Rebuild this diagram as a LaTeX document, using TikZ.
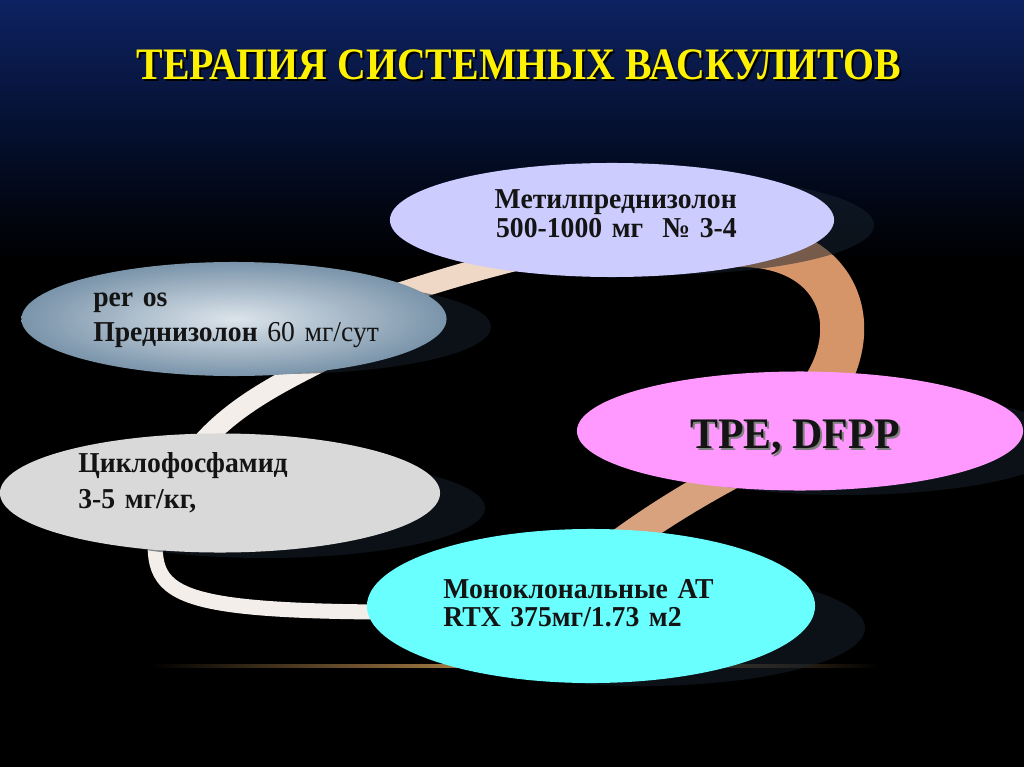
\documentclass[tikz,border=0pt]{standalone}
\usepackage{fontspec}
\setmainfont{Liberation Serif}
\newfontfamily\slidefont[FakeStretch=0.96]{Liberation Serif}
\newfontfamily\titlefont[FakeStretch=0.885]{Liberation Serif}
\usetikzlibrary{shapes.geometric}

\definecolor{bgtop}{HTML}{0D2262}
\definecolor{bgmid}{HTML}{030C24}
\definecolor{methfill}{HTML}{CCCCFF}
\definecolor{perosin}{HTML}{DCE4EB}
\definecolor{perosout}{HTML}{7A94AA}
\definecolor{tpefill}{HTML}{FF99FF}
\definecolor{cyclofill}{HTML}{D9D9D9}
\definecolor{monofill}{HTML}{6AFFFF}
\definecolor{bandwhite}{HTML}{F4EEEA}
\definecolor{bandpink}{HTML}{EFD8C6}
\definecolor{bandtan}{HTML}{D69469}
\definecolor{bandtan2}{HTML}{D8A27F}
\definecolor{shadowfill}{HTML}{17232F}
\definecolor{inktext}{HTML}{141414}
\definecolor{glowline}{HTML}{C09050}

\pgfdeclarelayer{slide}
\pgfdeclarelayer{ribbon}
\pgfdeclarelayer{shade}
\pgfsetlayers{slide,ribbon,shade,main}

% tikz maps 25bp..75bp of the shading onto the path
\pgfdeclareverticalshading{slidebg}{100bp}{color(0bp)=(black); color(58bp)=(black); color(64.6bp)=(bgmid); color(75bp)=(bgtop); color(100bp)=(bgtop)}

\begin{document}
\begin{tikzpicture}[x=0.025cm, y=-0.025cm,
    pill/.style={ellipse, inner sep=0pt, outer sep=0pt},
    ink/.style={text=inktext, inner sep=0pt, font=\slidefont\fontsize{20.5}{#1}\selectfont\bfseries},
    ink/.default=20.6pt,
    heading/.style={inner sep=0pt, anchor=base, font=\titlefont\fontsize{32}{38}\selectfont\bfseries},
    band/.style={line cap=butt, line join=round},
    drop/.style={fill=shadowfill, opacity=.5}]
  \useasboundingbox (0,0) rectangle (1024,767);

  \begin{pgfonlayer}{slide}
    \shade[shading=slidebg] (0,0) rectangle (1024,767);
    \shade[left color=black, right color=black, middle color=glowline] (150,664) rectangle (880,667);
  \end{pgfonlayer}

  % title
  \node[heading, text=black] at (521,82) {ТЕРАПИЯ СИСТЕМНЫХ ВАСКУЛИТОВ};
  \node[heading, text=yellow] (title) at (519,80) {ТЕРАПИЯ СИСТЕМНЫХ ВАСКУЛИТОВ};

  % ellipses
  \node[pill, fill=methfill, minimum width=11.1cm, minimum height=2.85cm] (meth) at (612,220) {};
  \node[pill, inner color=perosin, outer color=perosout, minimum width=10.625cm, minimum height=2.85cm] (peros) at (234,319) {};
  \node[pill, fill=cyclofill, minimum width=11cm, minimum height=2.975cm] (cyclo) at (220,493) {};
  \node[pill, fill=tpefill, minimum width=11.15cm, minimum height=2.975cm] (tpe) at (800,431) {};
  \node[pill, fill=monofill, minimum width=11.2cm, minimum height=3.85cm] (mono) at (591,606) {};

  \node[ink, text width=8cm, align=right, anchor=base east] (methtext) at (737,209) {Метилпреднизолон\\500-1000 мг\ \ № 3-4};
  \node[ink=24.9pt, text width=8cm, align=left, anchor=base west] (perostext) at (93,306) {per os\\Преднизолон {\mdseries 60 мг/сут}};
  \node[ink=25.6pt, text width=8cm, align=left, anchor=base west] (cyclotext) at (78,472) {Циклофосфамид\\3-5 мг/кг,};
  \node[ink, text width=8cm, align=left, anchor=base west] (monotext) at (443,598) {Моноклональные АТ\\RTX 375мг/1.73 м2};
  \node[heading, text=gray, font=\slidefont\fontsize{31}{36}\selectfont\bfseries] at (797,450) {TPE, DFPP};
  \node[heading, text=inktext, font=\slidefont\fontsize{31}{36}\selectfont\bfseries] (tpetext) at (795,448) {TPE, DFPP};

  % ribbon behind the ellipses
  \begin{pgfonlayer}{ribbon}
    \draw[band, bandwhite, line width=10.7pt] (mono.center) -- (470,612) .. controls (160,614) and (148,600) .. (157,520) -- (cyclo.center);
    \draw[band, bandwhite, line width=14.2pt] (cyclo.center) -- (185,465) .. controls (220,412) and (275,385) .. (335,355) -- (peros.center);
    \draw[band, bandpink, line width=15.6pt] (peros.center) -- (380,300) .. controls (440,280) and (500,262) .. (580,245) -- (meth.center);
    \draw[band, bandtan, line width=31.3pt] (meth.center) -- (740,245) .. controls (840,245) and (870,330) .. (815,400) -- (tpe.center);
    \draw[band, bandtan2, line width=21.3pt] (tpe.center) -- (790,445) .. controls (740,468) and (670,505) .. (605,555) -- (mono.center);
  \end{pgfonlayer}

  % shadows
  \begin{pgfonlayer}{shade}
    \fill[drop] ([shift={(40,5)}]meth.center) ellipse [x radius=222, y radius=50];
    \fill[drop] ([shift={(45,8)}]peros.center) ellipse [x radius=212, y radius=47];
    \fill[drop] ([shift={(45,15)}]cyclo.center) ellipse [x radius=220, y radius=50];
    \fill[drop] ([shift={(45,12)}]tpe.center) ellipse [x radius=223, y radius=52];
    \fill[drop] ([shift={(50,22)}]mono.center) ellipse [x radius=224, y radius=58];
  \end{pgfonlayer}
\end{tikzpicture}
\end{document}
